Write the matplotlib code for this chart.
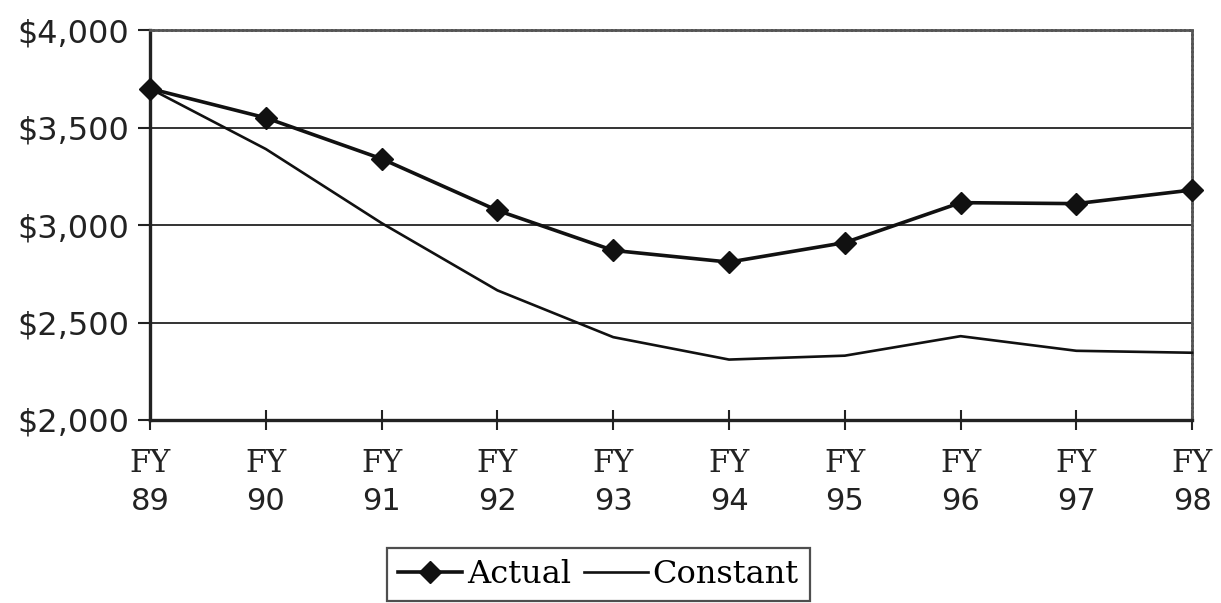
import matplotlib
matplotlib.use("Agg")
import matplotlib.pyplot as plt
from matplotlib.ticker import FuncFormatter

years = ["89", "90", "91", "92", "93", "94", "95", "96", "97", "98"]
actual = [3700, 3550, 3340, 3075, 2870, 2810, 2910, 3115, 3110, 3180]
constant = [3700, 3390, 3010, 2665, 2425, 2310, 2330, 2430, 2355, 2345]
yticks = [2000, 2500, 3000, 3500, 4000]

fig = plt.figure(figsize=(12.21, 6.03), dpi=100)
ax = fig.add_axes([0.1229, 0.3035, 0.8535, 0.6465])

x = list(range(len(years)))
ax.plot(x, actual, color="#111111", lw=2.6, marker="D", ms=11,
        mfc="#111111", mec="#111111", label="Actual", zorder=4, clip_on=False)
ax.plot(x, constant, color="#111111", lw=1.9, label="Constant", zorder=3, clip_on=False)

ax.set_xlim(0, len(years) - 1)
ax.set_ylim(2000, 4000)
ax.set_yticks(yticks)
ax.yaxis.set_major_formatter(FuncFormatter(lambda v, p: f"${v:,.0f}"))
ax.grid(axis="y", color="#333333", lw=1.4)
ax.set_axisbelow(True)

ax.set_xticks(x)
ax.set_xticklabels(["FY"] * len(years), family="DejaVu Serif", fontsize=22)
for xi, yr in zip(x, years):
    ax.text(xi, -0.208, yr, transform=ax.get_xaxis_transform(), ha="center", va="center",
            fontsize=22, family="DejaVu Sans", color="#222222")

ax.tick_params(axis="x", direction="inout", length=14, width=1.5, pad=13,
               colors="#222222")
ax.tick_params(axis="y", direction="out", length=9, width=1.5, pad=6,
               labelsize=23, colors="#222222")
for lab in ax.get_yticklabels():
    lab.set_family("DejaVu Sans")

for side in ["left", "bottom"]:
    ax.spines[side].set_linewidth(2.4)
    ax.spines[side].set_color("#222222")
for side in ["top", "right"]:
    ax.spines[side].set_linewidth(2.0)
    ax.spines[side].set_color("#555555")
    ax.spines[side].set_linestyle((0, (1, 0.6)))

leg = fig.legend(loc="upper center", bbox_to_anchor=(0.49, 0.092), ncol=2,
                 frameon=True, fancybox=False, edgecolor="#222222",
                 prop={"family": "DejaVu Serif", "size": 23},
                 handlelength=2.0, handletextpad=0.15, columnspacing=0.4,
                 borderpad=0.35, borderaxespad=0)
leg.get_frame().set_linewidth(1.6)

fig.savefig("out.png", dpi=100, facecolor="white")
